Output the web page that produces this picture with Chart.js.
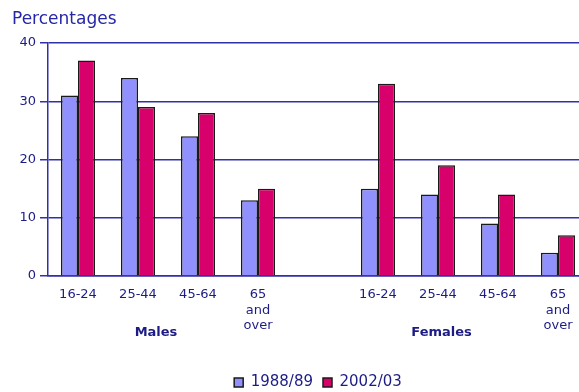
<!DOCTYPE html>
<html>
<head>
<meta charset="utf-8">
<script src="https://cdn.jsdelivr.net/npm/chart.js@4/dist/chart.umd.min.js"></script>
<style>
  html, body { margin: 0; padding: 0; background: #fff; overflow: hidden; }
  #wrap { width: 579px; height: 392px; overflow: hidden; position: relative; }
  #box { width: 588px; height: 400px; }
</style>
</head>
<body>
<div id="wrap"><div id="box"><canvas id="c"></canvas></div></div>
<script>
// Age bands for each sex, with an empty slot separating the two groups
const categories = ['16-24', '25-44', '45-64', ['65', 'and', 'over'], '',
                    '16-24', '25-44', '45-64', ['65', 'and', 'over']];
const seriesNames = ['1988/89', '2002/03'];
// Percentages: males first, then the blank gap, then females
const values1988 = [31, 34, 24, 13, null, 15, 14, 9, 4];
const values2002 = [37, 29, 28, 15, null, 33, 19, 14, 7];
const yTicks = [0, 10, 20, 30, 40];
const groupNames = ['Males', 'Females'];
const groupAnchors = [1.3, 6.06]; // category-index positions of the group captions

const NAVY = '#1c1c84';
const GRID = '#3030a8';
const FONT = "'DejaVu Sans', Verdana, sans-serif";

const captions = {
  id: 'captions',
  afterDraw(chart) {
    const ctx = chart.ctx;
    const xs = chart.scales.x;
    ctx.save();
    ctx.fillStyle = '#2626a8';
    ctx.font = '17px ' + FONT;
    ctx.textAlign = 'left';
    ctx.textBaseline = 'middle';
    ctx.fillText('Percentages', 12, 20);
    ctx.fillStyle = NAVY;
    ctx.font = 'bold 13px ' + FONT;
    ctx.textAlign = 'center';
    groupNames.forEach((name, i) => {
      ctx.fillText(name, xs.getPixelForValue(groupAnchors[i]), 333);
    });
    ctx.restore();
  }
};

new Chart(document.getElementById('c'), {
  type: 'bar',
  data: {
    labels: categories,
    datasets: [
      { label: seriesNames[0], data: values1988, backgroundColor: '#9090ff',
        borderColor: '#1a1a1a', borderWidth: 1.5 },
      { label: seriesNames[1], data: values2002, backgroundColor: '#d8006a',
        borderColor: '#1a1a1a', borderWidth: 1.5 }
    ]
  },
  options: {
    responsive: true,
    maintainAspectRatio: false,
    animation: false,
    layout: { padding: { left: 12, top: 43, right: 0, bottom: 0 } },
    datasets: { bar: { categoryPercentage: 0.567, barPercentage: 1.0 } },
    scales: {
      x: {
        grid: { display: false },
        border: { display: true, color: GRID, width: 1.5 },
        ticks: { color: NAVY, font: { family: FONT, size: 13 }, padding: 3,
                 maxRotation: 0, autoSkip: false },
        afterFit(scale) { scale.height = 89; }
      },
      y: {
        min: 0, max: 40,
        afterBuildTicks(scale) { scale.ticks = yTicks.map(v => ({ value: v })); },
        grid: { color: GRID, lineWidth: 1.5, drawTicks: true, tickLength: 8 },
        border: { display: true, color: GRID, width: 1.5 },
        ticks: { color: NAVY, font: { family: FONT, size: 13 }, padding: 4 },
        afterFit(scale) { scale.width = 36; }
      }
    },
    plugins: {
      legend: {
        position: 'bottom',
        fullSize: false,
        labels: { color: NAVY, font: { family: FONT, size: 15 },
                  boxWidth: 9, boxHeight: 9, padding: 10 }
      },
      tooltip: { enabled: false }
    }
  },
  plugins: [captions]
});
</script>
</body>
</html>
